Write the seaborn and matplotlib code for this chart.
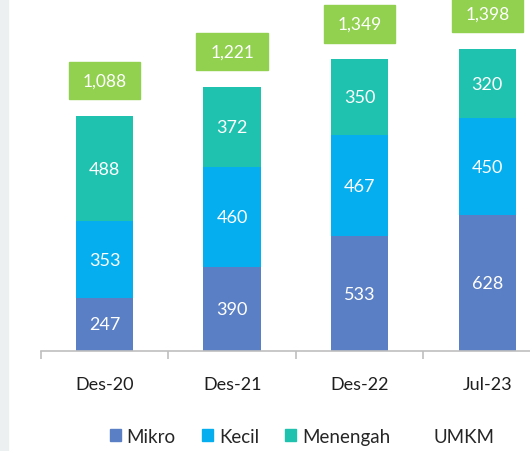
import pandas as pd
import matplotlib.pyplot as plt
import seaborn as sns
from matplotlib.patches import Rectangle, Patch

# -----------------------------
# data
# -----------------------------
periods = ["Des-20", "Des-21", "Des-22", "Jul-23"]
mikro = [247, 390, 533, 628]
kecil = [353, 460, 467, 450]
menengah = [488, 372, 350, 320]
umkm = [1088, 1221, 1349, 1398]

df = pd.DataFrame({"Periode": periods, "Mikro": mikro, "Kecil": kecil, "Menengah": menengah})
df["base_kecil"] = df["Mikro"]
df["base_menengah"] = df["Mikro"] + df["Kecil"]

colors = {"Mikro": "#5B7FC4", "Kecil": "#05AEEF", "Menengah": "#1FC2AE"}
green = "#92D050"

sns.set_style("white")
plt.rcParams["font.family"] = ["Lato", "DejaVu Sans"]

fig = plt.figure(figsize=(5.30, 4.52), dpi=100)
ax = fig.add_axes([0.077, 0.221, 0.923, 0.779])
fig.patches.append(Rectangle((0, 0), 0.016, 1, transform=fig.transFigure,
                             color="#EDF0F0", zorder=0))

bw = 0.45
sns.barplot(data=df, x="Periode", y="Mikro", color=colors["Mikro"], width=bw,
            saturation=1, linewidth=0, ax=ax)
sns.barplot(data=df, x="Periode", y="Kecil", bottom=df["base_kecil"],
            color=colors["Kecil"], width=bw, saturation=1, linewidth=0, ax=ax)
sns.barplot(data=df, x="Periode", y="Menengah", bottom=df["base_menengah"],
            color=colors["Menengah"], width=bw, saturation=1, linewidth=0, ax=ax)

# segment labels
for i in range(len(periods)):
    segs = [(0, mikro[i]), (mikro[i], kecil[i]), (mikro[i] + kecil[i], menengah[i])]
    for b, v in segs:
        ax.text(i, b + v / 2, f"{v}", ha="center", va="center",
                color="white", fontsize=13)
    # total box
    yc = umkm[i] + 165
    ax.add_patch(Rectangle((i - 0.28, yc - 86), 0.56, 172, color=green,
                           clip_on=False, zorder=3))
    ax.text(i, yc, f"{umkm[i]:,}", ha="center", va="center",
            color="white", fontsize=12.5, zorder=4)

ax.set_xlim(-0.5, 3.335)
ax.set_ylim(0, 1630)
ax.set_xlabel("")
ax.set_ylabel("")
ax.set_yticks([])
for s in ["top", "right", "left"]:
    ax.spines[s].set_visible(False)
ax.spines["bottom"].set_color("#BFBFBF")
ax.spines["bottom"].set_linewidth(1.2)

ax.set_xticks([0, 1, 2, 3])
ax.set_xticklabels(periods, fontsize=13, color="#1E1E1E")
ax.tick_params(axis="x", length=0, pad=18)
ax.set_xticks([-0.5, 0.5, 1.5, 2.5], minor=True)
ax.tick_params(axis="x", which="minor", length=6, color="#BFBFBF", width=1.2,
               bottom=True)

handles = [Patch(color=colors["Mikro"]), Patch(color=colors["Kecil"]),
           Patch(color=colors["Menengah"]), Patch(color="white")]
fig.legend(handles, ["Mikro", "Kecil", "Menengah", "UMKM"], loc="center",
           bbox_to_anchor=(0.57, 0.032), ncol=4, frameon=False, fontsize=13.5,
           handlelength=0.6, handleheight=0.6, handletextpad=0.3,
           columnspacing=1.4, labelcolor="#262626")

fig.savefig("out.png", dpi=100)
